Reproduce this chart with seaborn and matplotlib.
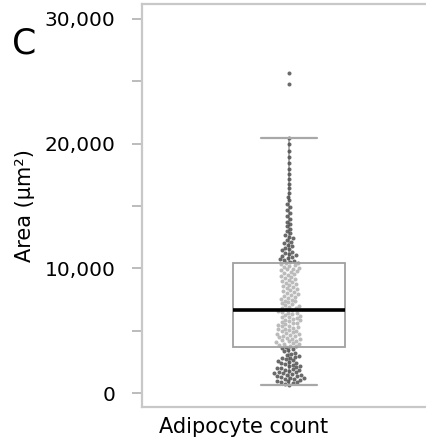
import numpy as np
import pandas as pd
import seaborn as sns
import matplotlib
matplotlib.use('Agg')
import matplotlib.pyplot as plt
from matplotlib.ticker import MultipleLocator, FuncFormatter

area_low = [640, 720, 790, 850, 905, 955, 1005, 1055, 1100, 1150,
            1195, 1245, 1290, 1340, 1385, 1435, 1480, 1530, 1580, 1625,
            1675, 1720, 1770, 1820, 1870, 1920, 1975, 2025, 2080, 2135,
            2190, 2250, 2310, 2370, 2430, 2495, 2560, 2630, 2700, 2770,
            2840, 2920, 3000, 3080, 3160, 3250, 3340, 3430, 3520, 3600,
            3680]
area_mid_low = [3740, 3800, 3860, 3910, 3970, 4030, 4080, 4140, 4200, 4250,
                4310, 4370, 4420, 4480, 4540, 4590, 4650, 4710, 4760, 4820,
                4880, 4940, 5000, 5060, 5110, 5170, 5230, 5290, 5350, 5410,
                5470, 5530, 5590, 5650, 5710, 5770, 5830, 5890, 5950, 6010,
                6070, 6130, 6200, 6260, 6320, 6390, 6450, 6510, 6580, 6640]
area_mid_high = [6710, 6780, 6850, 6920, 6990, 7060, 7130, 7200, 7280, 7350,
                 7420, 7500, 7570, 7650, 7720, 7800, 7870, 7950, 8030, 8100,
                 8180, 8260, 8340, 8420, 8500, 8580, 8660, 8740, 8820, 8900,
                 8980, 9060, 9140, 9220, 9300, 9380, 9460, 9540, 9620, 9700,
                 9770, 9840, 9910, 9980, 10050, 10120, 10190, 10260, 10330, 10400]
area_high = [10460, 10520, 10590, 10660, 10730, 10810, 10890, 10970, 11060, 11150,
             11240, 11340, 11440, 11540, 11650, 11760, 11880, 12000, 12130, 12260,
             12400, 12540, 12690, 12850, 13010, 13180, 13360, 13550, 13750, 13960,
             14180, 14410, 14650, 14900, 15170, 15450, 15750, 16070, 16410, 16770,
             17150, 17560, 18000, 18460, 18950, 19450, 19950, 20480]
area_outliers = [24800, 25680]

areas = area_low + area_mid_low + area_mid_high + area_high + area_outliers
df = pd.DataFrame({'group': 'Adipocyte count', 'area': areas})

sns.set_style('ticks')
plt.rcParams['font.family'] = ['DejaVu Sans']
plt.rcParams['text.color'] = 'black'
plt.rcParams['ytick.labelcolor'] = 'black'

fig = plt.figure(figsize=(4.26, 4.4), dpi=100)
ax = fig.add_axes([142 / 426, 1 - 407 / 440, 294 / 426, 403 / 440])

sns.swarmplot(data=df, x='group', y='area', ax=ax, color='#505050', size=2.9,
              alpha=0.85, linewidth=0, zorder=2)
sns.boxplot(data=df, x='group', y='area', ax=ax, width=0.378, showfliers=False,
            linecolor='#a0a0a0', linewidth=1.3,
            boxprops=dict(facecolor=(1, 1, 1, 0.55), edgecolor='#a0a0a0', zorder=3),
            whiskerprops=dict(color='#a8a8a8', zorder=1),
            capprops=dict(color='#a8a8a8', linewidth=1.6, zorder=3),
            medianprops=dict(color='black', linewidth=2.6, zorder=4))

ax.set_xlim(-0.5, 0.5)
ax.set_ylim(-1120, 31200)
ax.yaxis.set_major_locator(MultipleLocator(10000))
ax.yaxis.set_minor_locator(MultipleLocator(5000))
ax.yaxis.set_major_formatter(FuncFormatter(lambda v, p: f'{int(v):,}'))
ax.tick_params(axis='y', which='both', length=7, width=1.2, color='#b0b0b0',
               labelsize=14.5, labelcolor='black', pad=12)
ax.set_xticks([])
ax.set_xlabel('')
ax.set_ylabel('')
for side in ['left', 'top', 'bottom', 'right']:
    ax.spines[side].set_color('#c8c8c8')
    ax.spines[side].set_linewidth(1.6)

fig.text(244 / 426, 1 - 427 / 440, 'Adipocyte count', ha='center', va='center',
         fontsize=15, color='black')
fig.text(25 / 426, 1 - 206 / 440, 'Area (µm²)', ha='center', va='center',
         rotation=90, fontsize=15, color='black')
fig.text(12 / 426, 1 - 43 / 440, 'C', ha='left', va='center', fontsize=25,
         color='black')

fig.savefig('out.png', dpi=100)
